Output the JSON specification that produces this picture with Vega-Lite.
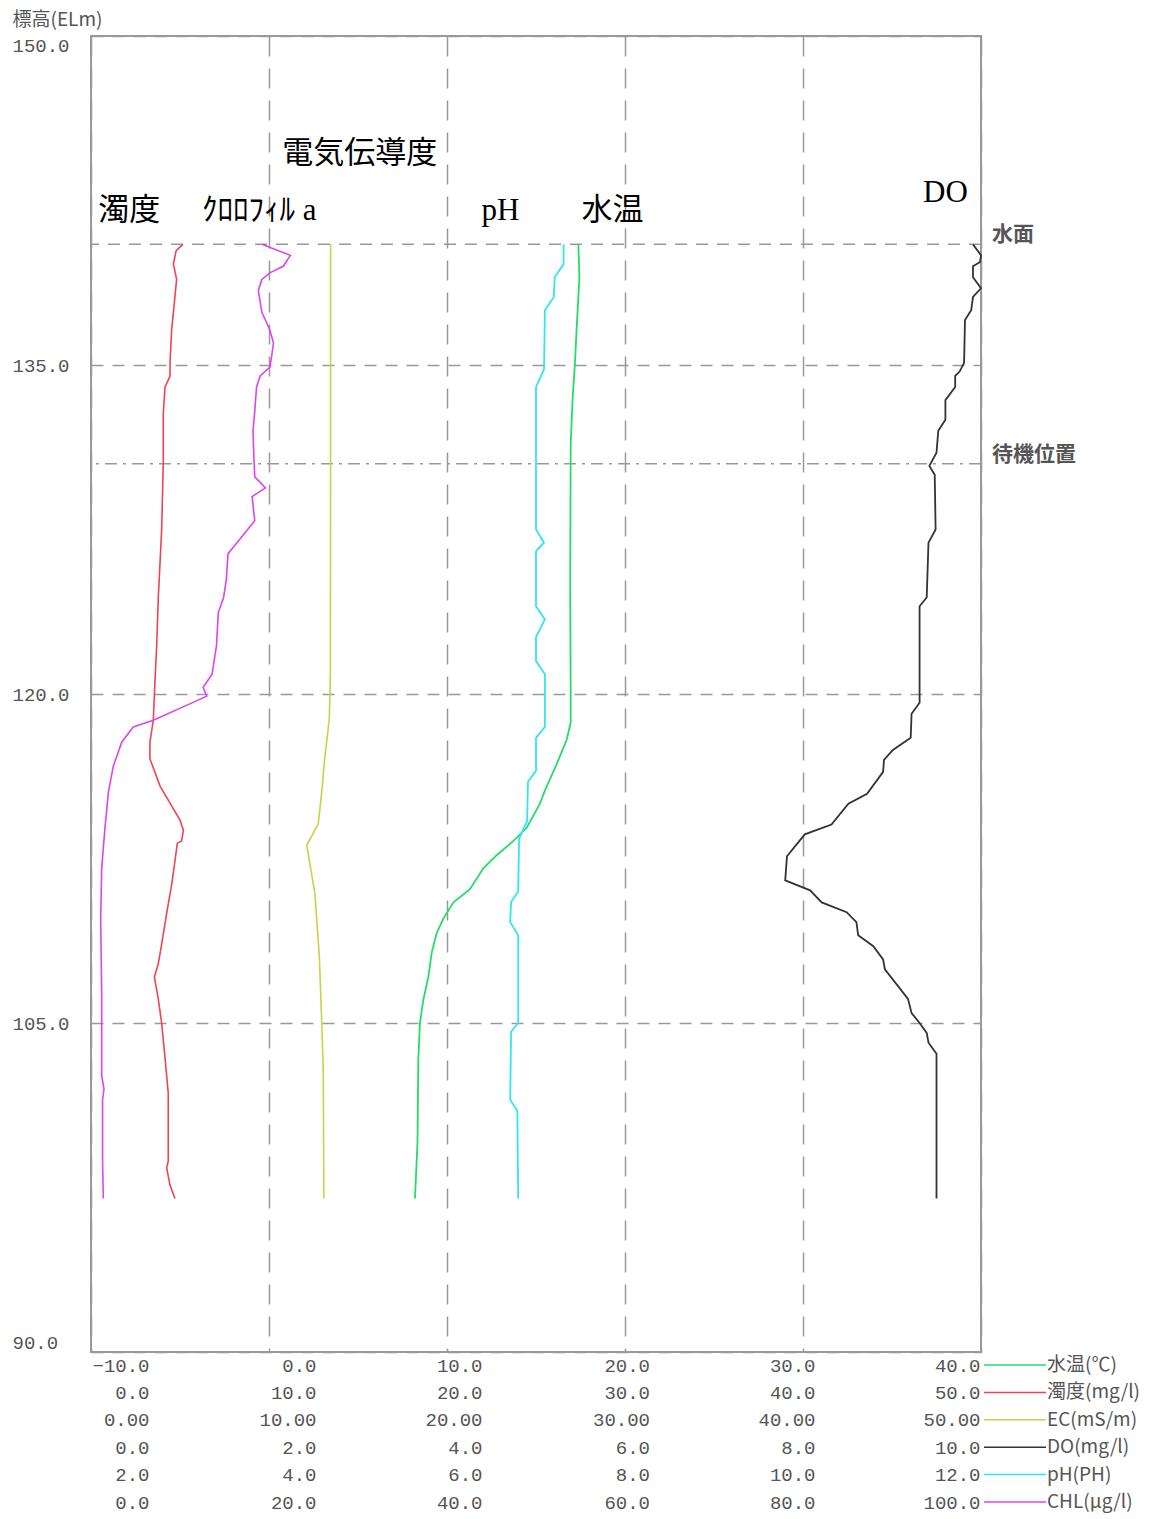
{
  "$schema": "https://vega.github.io/schema/vega-lite/v6.json",
  "width": 890,
  "height": 1316,
  "autosize": {"type": "none"},
  "padding": {"left": 91, "top": 36, "right": 188, "bottom": 167},
  "background": "white",
  "config": {
    "view": {"stroke": "#9a9a9a", "strokeWidth": 2},
    "axis": {"labelFont": "Liberation Mono", "labelFontSize": 19, "labelColor": "#555555", "domain": false, "ticks": false, "tickSize": 0, "labelOverlap": false, "labelBound": false}
  },
  "datasets": {
    "profile": [
      {"p": "水温(℃)", "e": 140.5, "v": 17.38},
      {"p": "水温(℃)", "e": 139.0, "v": 17.44},
      {"p": "水温(℃)", "e": 136.6, "v": 17.28},
      {"p": "水温(℃)", "e": 135.1, "v": 17.19},
      {"p": "水温(℃)", "e": 133.5, "v": 17.06},
      {"p": "水温(℃)", "e": 131.4, "v": 16.95},
      {"p": "水温(℃)", "e": 125.0, "v": 16.92},
      {"p": "水温(℃)", "e": 120.0, "v": 16.95},
      {"p": "水温(℃)", "e": 118.7, "v": 16.95},
      {"p": "水温(℃)", "e": 117.9, "v": 16.72},
      {"p": "水温(℃)", "e": 116.8, "v": 16.16},
      {"p": "水温(℃)", "e": 115.6, "v": 15.5},
      {"p": "水温(℃)", "e": 115.0, "v": 15.22},
      {"p": "水温(℃)", "e": 113.9, "v": 14.48},
      {"p": "水温(℃)", "e": 113.3, "v": 13.73},
      {"p": "水温(℃)", "e": 112.65, "v": 12.79},
      {"p": "水温(℃)", "e": 112.05, "v": 12.04},
      {"p": "水温(℃)", "e": 111.1, "v": 11.29},
      {"p": "水温(℃)", "e": 110.5, "v": 10.36},
      {"p": "水温(℃)", "e": 109.75, "v": 9.79},
      {"p": "水温(℃)", "e": 109.1, "v": 9.42},
      {"p": "水温(℃)", "e": 108.2, "v": 9.14},
      {"p": "水温(℃)", "e": 107.1, "v": 8.95},
      {"p": "水温(℃)", "e": 106.05, "v": 8.67},
      {"p": "水温(℃)", "e": 105.0, "v": 8.48},
      {"p": "水温(℃)", "e": 103.35, "v": 8.39},
      {"p": "水温(℃)", "e": 99.5, "v": 8.34},
      {"p": "水温(℃)", "e": 97.0, "v": 8.2},

      {"p": "濁度(mg/l)", "e": 140.5, "v": 5.15},
      {"p": "濁度(mg/l)", "e": 140.2, "v": 4.78},
      {"p": "濁度(mg/l)", "e": 139.6, "v": 4.63},
      {"p": "濁度(mg/l)", "e": 138.9, "v": 4.81},
      {"p": "濁度(mg/l)", "e": 136.6, "v": 4.53},
      {"p": "濁度(mg/l)", "e": 135.1, "v": 4.44},
      {"p": "濁度(mg/l)", "e": 134.5, "v": 4.44},
      {"p": "濁度(mg/l)", "e": 134.0, "v": 4.16},
      {"p": "濁度(mg/l)", "e": 132.8, "v": 4.06},
      {"p": "濁度(mg/l)", "e": 130.5, "v": 4.06},
      {"p": "濁度(mg/l)", "e": 127.5, "v": 3.97},
      {"p": "濁度(mg/l)", "e": 126.0, "v": 3.88},
      {"p": "濁度(mg/l)", "e": 124.4, "v": 3.78},
      {"p": "濁度(mg/l)", "e": 122.2, "v": 3.69},
      {"p": "濁度(mg/l)", "e": 120.7, "v": 3.6},
      {"p": "濁度(mg/l)", "e": 118.8, "v": 3.5},
      {"p": "濁度(mg/l)", "e": 117.8, "v": 3.31},
      {"p": "濁度(mg/l)", "e": 117.05, "v": 3.31},
      {"p": "濁度(mg/l)", "e": 115.8, "v": 3.88},
      {"p": "濁度(mg/l)", "e": 114.9, "v": 4.53},
      {"p": "濁度(mg/l)", "e": 114.25, "v": 5.0},
      {"p": "濁度(mg/l)", "e": 113.8, "v": 5.19},
      {"p": "濁度(mg/l)", "e": 113.3, "v": 5.09},
      {"p": "濁度(mg/l)", "e": 113.2, "v": 4.85},
      {"p": "濁度(mg/l)", "e": 112.4, "v": 4.72},
      {"p": "濁度(mg/l)", "e": 111.3, "v": 4.53},
      {"p": "濁度(mg/l)", "e": 110.0, "v": 4.25},
      {"p": "濁度(mg/l)", "e": 108.6, "v": 3.97},
      {"p": "濁度(mg/l)", "e": 107.7, "v": 3.78},
      {"p": "濁度(mg/l)", "e": 107.1, "v": 3.56},
      {"p": "濁度(mg/l)", "e": 106.1, "v": 3.78},
      {"p": "濁度(mg/l)", "e": 105.0, "v": 3.97},
      {"p": "濁度(mg/l)", "e": 103.4, "v": 4.16},
      {"p": "濁度(mg/l)", "e": 101.8, "v": 4.34},
      {"p": "濁度(mg/l)", "e": 98.7, "v": 4.34},
      {"p": "濁度(mg/l)", "e": 98.4, "v": 4.25},
      {"p": "濁度(mg/l)", "e": 97.6, "v": 4.44},
      {"p": "濁度(mg/l)", "e": 97.0, "v": 4.72},

      {"p": "EC(mS/m)", "e": 140.5, "v": 13.46},
      {"p": "EC(mS/m)", "e": 130.0, "v": 13.46},
      {"p": "EC(mS/m)", "e": 121.0, "v": 13.45},
      {"p": "EC(mS/m)", "e": 120.0, "v": 13.42},
      {"p": "EC(mS/m)", "e": 118.9, "v": 13.39},
      {"p": "EC(mS/m)", "e": 116.9, "v": 13.11},
      {"p": "EC(mS/m)", "e": 115.5, "v": 12.96},
      {"p": "EC(mS/m)", "e": 114.1, "v": 12.77},
      {"p": "EC(mS/m)", "e": 113.1, "v": 12.12},
      {"p": "EC(mS/m)", "e": 110.9, "v": 12.58},
      {"p": "EC(mS/m)", "e": 108.0, "v": 12.83},
      {"p": "EC(mS/m)", "e": 105.1, "v": 12.96},
      {"p": "EC(mS/m)", "e": 102.8, "v": 13.05},
      {"p": "EC(mS/m)", "e": 97.0, "v": 13.08},

      {"p": "DO(mg/l)", "e": 140.5, "v": 9.91},
      {"p": "DO(mg/l)", "e": 140.0, "v": 10.0},
      {"p": "DO(mg/l)", "e": 139.7, "v": 9.99},
      {"p": "DO(mg/l)", "e": 139.5, "v": 9.91},
      {"p": "DO(mg/l)", "e": 139.0, "v": 9.91},
      {"p": "DO(mg/l)", "e": 138.5, "v": 10.0},
      {"p": "DO(mg/l)", "e": 138.1, "v": 9.91},
      {"p": "DO(mg/l)", "e": 137.5, "v": 9.89},
      {"p": "DO(mg/l)", "e": 137.05, "v": 9.82},
      {"p": "DO(mg/l)", "e": 135.1, "v": 9.81},
      {"p": "DO(mg/l)", "e": 134.7, "v": 9.76},
      {"p": "DO(mg/l)", "e": 134.5, "v": 9.71},
      {"p": "DO(mg/l)", "e": 134.0, "v": 9.71},
      {"p": "DO(mg/l)", "e": 133.4, "v": 9.6},
      {"p": "DO(mg/l)", "e": 132.5, "v": 9.6},
      {"p": "DO(mg/l)", "e": 132.0, "v": 9.52},
      {"p": "DO(mg/l)", "e": 131.0, "v": 9.5},
      {"p": "DO(mg/l)", "e": 130.4, "v": 9.42},
      {"p": "DO(mg/l)", "e": 130.0, "v": 9.48},
      {"p": "DO(mg/l)", "e": 127.5, "v": 9.49},
      {"p": "DO(mg/l)", "e": 126.9, "v": 9.41},
      {"p": "DO(mg/l)", "e": 124.4, "v": 9.39},
      {"p": "DO(mg/l)", "e": 124.0, "v": 9.31},
      {"p": "DO(mg/l)", "e": 119.6, "v": 9.31},
      {"p": "DO(mg/l)", "e": 119.1, "v": 9.22},
      {"p": "DO(mg/l)", "e": 118.0, "v": 9.21},
      {"p": "DO(mg/l)", "e": 117.45, "v": 9.01},
      {"p": "DO(mg/l)", "e": 117.0, "v": 8.91},
      {"p": "DO(mg/l)", "e": 116.45, "v": 8.9},
      {"p": "DO(mg/l)", "e": 115.45, "v": 8.72},
      {"p": "DO(mg/l)", "e": 115.0, "v": 8.51},
      {"p": "DO(mg/l)", "e": 114.05, "v": 8.32},
      {"p": "DO(mg/l)", "e": 113.6, "v": 8.02},
      {"p": "DO(mg/l)", "e": 112.6, "v": 7.82},
      {"p": "DO(mg/l)", "e": 111.5, "v": 7.8},
      {"p": "DO(mg/l)", "e": 111.05, "v": 8.08},
      {"p": "DO(mg/l)", "e": 110.5, "v": 8.21},
      {"p": "DO(mg/l)", "e": 110.05, "v": 8.49},
      {"p": "DO(mg/l)", "e": 109.6, "v": 8.6},
      {"p": "DO(mg/l)", "e": 109.0, "v": 8.62},
      {"p": "DO(mg/l)", "e": 108.5, "v": 8.79},
      {"p": "DO(mg/l)", "e": 107.9, "v": 8.9},
      {"p": "DO(mg/l)", "e": 107.45, "v": 8.92},
      {"p": "DO(mg/l)", "e": 106.1, "v": 9.18},
      {"p": "DO(mg/l)", "e": 105.45, "v": 9.22},
      {"p": "DO(mg/l)", "e": 105.0, "v": 9.31},
      {"p": "DO(mg/l)", "e": 104.55, "v": 9.39},
      {"p": "DO(mg/l)", "e": 104.1, "v": 9.41},
      {"p": "DO(mg/l)", "e": 103.6, "v": 9.5},
      {"p": "DO(mg/l)", "e": 97.0, "v": 9.5},

      {"p": "pH(PH)", "e": 140.5, "v": 7.31},
      {"p": "pH(PH)", "e": 139.6, "v": 7.31},
      {"p": "pH(PH)", "e": 139.0, "v": 7.21},
      {"p": "pH(PH)", "e": 138.1, "v": 7.2},
      {"p": "pH(PH)", "e": 137.5, "v": 7.1},
      {"p": "pH(PH)", "e": 134.8, "v": 7.09},
      {"p": "pH(PH)", "e": 134.0, "v": 7.0},
      {"p": "pH(PH)", "e": 127.5, "v": 7.0},
      {"p": "pH(PH)", "e": 126.9, "v": 7.09},
      {"p": "pH(PH)", "e": 126.5, "v": 7.0},
      {"p": "pH(PH)", "e": 124.0, "v": 7.0},
      {"p": "pH(PH)", "e": 123.4, "v": 7.1},
      {"p": "pH(PH)", "e": 122.6, "v": 7.0},
      {"p": "pH(PH)", "e": 121.5, "v": 7.0},
      {"p": "pH(PH)", "e": 120.9, "v": 7.1},
      {"p": "pH(PH)", "e": 118.5, "v": 7.1},
      {"p": "pH(PH)", "e": 118.0, "v": 7.0},
      {"p": "pH(PH)", "e": 116.5, "v": 7.0},
      {"p": "pH(PH)", "e": 116.0, "v": 6.91},
      {"p": "pH(PH)", "e": 114.2, "v": 6.9},
      {"p": "pH(PH)", "e": 113.4, "v": 6.81},
      {"p": "pH(PH)", "e": 111.0, "v": 6.8},
      {"p": "pH(PH)", "e": 110.5, "v": 6.72},
      {"p": "pH(PH)", "e": 109.6, "v": 6.71},
      {"p": "pH(PH)", "e": 109.0, "v": 6.8},
      {"p": "pH(PH)", "e": 105.0, "v": 6.8},
      {"p": "pH(PH)", "e": 104.6, "v": 6.72},
      {"p": "pH(PH)", "e": 101.5, "v": 6.71},
      {"p": "pH(PH)", "e": 101.0, "v": 6.79},
      {"p": "pH(PH)", "e": 97.0, "v": 6.8},

      {"p": "CHL(μg/l)", "e": 140.5, "v": 19.2},
      {"p": "CHL(μg/l)", "e": 140.0, "v": 22.4},
      {"p": "CHL(μg/l)", "e": 139.5, "v": 21.6},
      {"p": "CHL(μg/l)", "e": 139.2, "v": 20.1},
      {"p": "CHL(μg/l)", "e": 138.9, "v": 19.2},
      {"p": "CHL(μg/l)", "e": 138.4, "v": 18.8},
      {"p": "CHL(μg/l)", "e": 137.4, "v": 19.2},
      {"p": "CHL(μg/l)", "e": 136.6, "v": 20.1},
      {"p": "CHL(μg/l)", "e": 136.0, "v": 20.5},
      {"p": "CHL(μg/l)", "e": 135.4, "v": 20.3},
      {"p": "CHL(μg/l)", "e": 134.9, "v": 20.1},
      {"p": "CHL(μg/l)", "e": 134.5, "v": 19.0},
      {"p": "CHL(μg/l)", "e": 134.0, "v": 18.6},
      {"p": "CHL(μg/l)", "e": 132.9, "v": 18.4},
      {"p": "CHL(μg/l)", "e": 132.0, "v": 18.2},
      {"p": "CHL(μg/l)", "e": 130.8, "v": 18.3},
      {"p": "CHL(μg/l)", "e": 129.9, "v": 18.4},
      {"p": "CHL(μg/l)", "e": 129.4, "v": 19.6},
      {"p": "CHL(μg/l)", "e": 129.0, "v": 18.1},
      {"p": "CHL(μg/l)", "e": 127.9, "v": 18.4},
      {"p": "CHL(μg/l)", "e": 126.9, "v": 16.4},
      {"p": "CHL(μg/l)", "e": 126.4, "v": 15.4},
      {"p": "CHL(μg/l)", "e": 125.2, "v": 15.2},
      {"p": "CHL(μg/l)", "e": 124.4, "v": 14.9},
      {"p": "CHL(μg/l)", "e": 123.7, "v": 14.3},
      {"p": "CHL(μg/l)", "e": 122.2, "v": 14.1},
      {"p": "CHL(μg/l)", "e": 120.9, "v": 13.6},
      {"p": "CHL(μg/l)", "e": 120.3, "v": 12.6},
      {"p": "CHL(μg/l)", "e": 119.9, "v": 13.0},
      {"p": "CHL(μg/l)", "e": 119.55, "v": 11.1},
      {"p": "CHL(μg/l)", "e": 118.8, "v": 7.0},
      {"p": "CHL(μg/l)", "e": 118.5, "v": 4.75},
      {"p": "CHL(μg/l)", "e": 117.8, "v": 3.45},
      {"p": "CHL(μg/l)", "e": 116.7, "v": 2.5},
      {"p": "CHL(μg/l)", "e": 115.5, "v": 1.95},
      {"p": "CHL(μg/l)", "e": 113.9, "v": 1.57},
      {"p": "CHL(μg/l)", "e": 112.05, "v": 1.2},
      {"p": "CHL(μg/l)", "e": 109.7, "v": 1.09},
      {"p": "CHL(μg/l)", "e": 106.5, "v": 1.2},
      {"p": "CHL(μg/l)", "e": 102.6, "v": 1.2},
      {"p": "CHL(μg/l)", "e": 102.0, "v": 1.46},
      {"p": "CHL(μg/l)", "e": 101.5, "v": 1.3},
      {"p": "CHL(μg/l)", "e": 98.7, "v": 1.3},
      {"p": "CHL(μg/l)", "e": 97.0, "v": 1.38}
    ],
    "notes": [
      {"p": "水温(℃)", "label": "水温", "e": 142.0, "v": 19.3},
      {"p": "濁度(mg/l)", "label": "濁度", "e": 142.0, "v": 2.15},
      {"p": "EC(mS/m)", "label": "電気伝導度", "e": 144.6, "v": 15.1},
      {"p": "DO(mg/l)", "label": "DO", "e": 142.85, "v": 9.6},
      {"p": "pH(PH)", "label": "pH", "e": 142.0, "v": 6.6},
      {"p": "CHL(μg/l)", "label": "ｸﾛﾛﾌｨﾙ a", "e": 142.0, "v": 18.9}
    ],
    "refs": [
      {"e": 140.5, "label": "水面"},
      {"e": 130.5, "label": "待機位置"}
    ]
  },
  "encoding": {
    "y": {
      "field": "e", "type": "quantitative",
      "scale": {"domain": [90, 150], "nice": false, "zero": false},
      "axis": {
        "values": [90, 105, 120, 135, 150], "format": ".1f",
        "title": "標高(ELm)", "titleAngle": 0, "titleAlign": "left", "titleBaseline": "middle",
        "titleX": -79, "titleY": -17, "titleFont": "Noto Sans CJK JP", "titleFontSize": 19,
        "titleFontWeight": "normal", "titleColor": "#555555",
        "labelAlign": "left", "labelPadding": 79, "labelFlush": true,
        "grid": true, "gridDash": [12, 9], "gridColor": "#999999", "gridWidth": 1.5
      }
    }
  },
  "layer": [
    {
      "data": {"name": "refs"},
      "mark": {"type": "rule", "color": "#999999", "strokeWidth": 1.5},
      "encoding": {
        "strokeDash": {"field": "label", "type": "nominal", "scale": {"domain": ["水面", "待機位置"], "range": [[12, 9], [12, 6, 3, 6]]}, "legend": null}
      }
    },
    {
      "data": {"name": "refs"},
      "mark": {"type": "text", "align": "left", "baseline": "middle", "dx": 11, "dy": -9, "font": "Noto Sans CJK JP", "fontSize": 21, "fontWeight": "bold", "color": "#555555"},
      "encoding": {"x": {"value": "width"}, "text": {"field": "label"}}
    },
    {
      "layer": [
        {
          "data": {"name": "profile"},
          "transform": [{"filter": {"field": "p", "equal": "水温(℃)"}}],
          "mark": {"type": "line", "strokeWidth": 1.8},
          "encoding": {
            "x": {"field": "v", "type": "quantitative", "scale": {"domain": [-10, 40], "nice": false, "zero": false},
              "axis": {"orient": "bottom", "offset": 0, "values": [-10, 0, 10, 20, 30, 40], "format": ".1f", "title": null,
                "labelAlign": "right", "labelBaseline": "middle", "labelPadding": 13,
                "grid": true, "gridDash": [20, 12], "gridColor": "#999999", "gridWidth": 1.5,
                "labelOffset": {"condition": [{"test": "datum.value < -5", "value": 58}, {"test": "datum.value < 5", "value": 47}, {"test": "datum.value < 15", "value": 35}, {"test": "datum.value < 25", "value": 24.5}, {"test": "datum.value < 35", "value": 12}], "value": -1}}},
            "color": {"field": "p", "type": "nominal",
              "scale": {"domain": ["水温(℃)", "濁度(mg/l)", "EC(mS/m)", "DO(mg/l)", "pH(PH)", "CHL(μg/l)"], "range": ["#22dd66", "#ee4455", "#c8d24a", "#333333", "#33e6ee", "#dd44ee"]},
              "legend": {"orient": "none", "legendX": 892, "legendY": 1319, "title": null, "symbolType": "stroke", "symbolSize": 3844, "symbolStrokeWidth": 1.5, "clipHeight": 20, "rowPadding": 7.4, "labelOffset": 0, "labelFont": "Noto Sans CJK JP", "labelFontSize": 19, "labelColor": "#555555", "padding": 0, "direction": "vertical"}},
            "order": {"field": "e", "type": "quantitative"}
          }
        },
        {
          "data": {"name": "notes"},
          "transform": [{"filter": {"field": "p", "equal": "水温(℃)"}}],
          "mark": {"type": "text", "align": "center", "baseline": "middle", "font": "'Liberation Serif', 'Noto Sans CJK JP'", "fontSize": 31, "color": "#000000"},
          "encoding": {"x": {"field": "v", "type": "quantitative"}, "text": {"field": "label"}}
        }
      ]
    },
    {
      "layer": [
        {
          "data": {"name": "profile"},
          "transform": [{"filter": {"field": "p", "equal": "濁度(mg/l)"}}],
          "mark": {"type": "line", "strokeWidth": 1.6},
          "encoding": {
            "x": {"field": "v", "type": "quantitative", "scale": {"domain": [0, 50], "nice": false, "zero": false},
              "axis": {"orient": "bottom", "offset": 27.4, "values": [0, 10, 20, 30, 40, 50], "format": ".1f", "title": null,
                "labelAlign": "right", "labelBaseline": "middle", "labelPadding": 13, "grid": false,
                "labelOffset": {"condition": [{"test": "datum.value < 5", "value": 58}, {"test": "datum.value < 15", "value": 47}, {"test": "datum.value < 25", "value": 35}, {"test": "datum.value < 35", "value": 24.5}, {"test": "datum.value < 45", "value": 12}], "value": -1}}},
            "color": {"field": "p", "type": "nominal"},
            "order": {"field": "e", "type": "quantitative"}
          }
        },
        {
          "data": {"name": "notes"},
          "transform": [{"filter": {"field": "p", "equal": "濁度(mg/l)"}}],
          "mark": {"type": "text", "align": "center", "baseline": "middle", "font": "'Liberation Serif', 'Noto Sans CJK JP'", "fontSize": 31, "color": "#000000"},
          "encoding": {"x": {"field": "v", "type": "quantitative"}, "text": {"field": "label"}}
        }
      ]
    },
    {
      "layer": [
        {
          "data": {"name": "profile"},
          "transform": [{"filter": {"field": "p", "equal": "EC(mS/m)"}}],
          "mark": {"type": "line", "strokeWidth": 1.6},
          "encoding": {
            "x": {"field": "v", "type": "quantitative", "scale": {"domain": [0, 50], "nice": false, "zero": false},
              "axis": {"orient": "bottom", "offset": 54.8, "values": [0, 10, 20, 30, 40, 50], "format": ".2f", "title": null,
                "labelAlign": "right", "labelBaseline": "middle", "labelPadding": 13, "grid": false,
                "labelOffset": {"condition": [{"test": "datum.value < 5", "value": 58}, {"test": "datum.value < 15", "value": 47}, {"test": "datum.value < 25", "value": 35}, {"test": "datum.value < 35", "value": 24.5}, {"test": "datum.value < 45", "value": 12}], "value": -1}}},
            "color": {"field": "p", "type": "nominal"},
            "order": {"field": "e", "type": "quantitative"}
          }
        },
        {
          "data": {"name": "notes"},
          "transform": [{"filter": {"field": "p", "equal": "EC(mS/m)"}}],
          "mark": {"type": "text", "align": "center", "baseline": "middle", "font": "'Liberation Serif', 'Noto Sans CJK JP'", "fontSize": 31, "color": "#000000"},
          "encoding": {"x": {"field": "v", "type": "quantitative"}, "text": {"field": "label"}}
        }
      ]
    },
    {
      "layer": [
        {
          "data": {"name": "profile"},
          "transform": [{"filter": {"field": "p", "equal": "DO(mg/l)"}}],
          "mark": {"type": "line", "strokeWidth": 1.8},
          "encoding": {
            "x": {"field": "v", "type": "quantitative", "scale": {"domain": [0, 10], "nice": false, "zero": false},
              "axis": {"orient": "bottom", "offset": 82.2, "values": [0, 2, 4, 6, 8, 10], "format": ".1f", "title": null,
                "labelAlign": "right", "labelBaseline": "middle", "labelPadding": 13, "grid": false,
                "labelOffset": {"condition": [{"test": "datum.value < 1", "value": 58}, {"test": "datum.value < 3", "value": 47}, {"test": "datum.value < 5", "value": 35}, {"test": "datum.value < 7", "value": 24.5}, {"test": "datum.value < 9", "value": 12}], "value": -1}}},
            "color": {"field": "p", "type": "nominal"},
            "order": {"field": "e", "type": "quantitative"}
          }
        },
        {
          "data": {"name": "notes"},
          "transform": [{"filter": {"field": "p", "equal": "DO(mg/l)"}}],
          "mark": {"type": "text", "align": "center", "baseline": "middle", "font": "'Liberation Serif', 'Noto Sans CJK JP'", "fontSize": 31, "color": "#000000"},
          "encoding": {"x": {"field": "v", "type": "quantitative"}, "text": {"field": "label"}}
        }
      ]
    },
    {
      "layer": [
        {
          "data": {"name": "profile"},
          "transform": [{"filter": {"field": "p", "equal": "pH(PH)"}}],
          "mark": {"type": "line", "strokeWidth": 1.8},
          "encoding": {
            "x": {"field": "v", "type": "quantitative", "scale": {"domain": [2, 12], "nice": false, "zero": false},
              "axis": {"orient": "bottom", "offset": 109.6, "values": [2, 4, 6, 8, 10, 12], "format": ".1f", "title": null,
                "labelAlign": "right", "labelBaseline": "middle", "labelPadding": 13, "grid": false,
                "labelOffset": {"condition": [{"test": "datum.value < 3", "value": 58}, {"test": "datum.value < 5", "value": 47}, {"test": "datum.value < 7", "value": 35}, {"test": "datum.value < 9", "value": 24.5}, {"test": "datum.value < 11", "value": 12}], "value": -1}}},
            "color": {"field": "p", "type": "nominal"},
            "order": {"field": "e", "type": "quantitative"}
          }
        },
        {
          "data": {"name": "notes"},
          "transform": [{"filter": {"field": "p", "equal": "pH(PH)"}}],
          "mark": {"type": "text", "align": "center", "baseline": "middle", "font": "'Liberation Serif', 'Noto Sans CJK JP'", "fontSize": 31, "color": "#000000"},
          "encoding": {"x": {"field": "v", "type": "quantitative"}, "text": {"field": "label"}}
        }
      ]
    },
    {
      "layer": [
        {
          "data": {"name": "profile"},
          "transform": [{"filter": {"field": "p", "equal": "CHL(μg/l)"}}],
          "mark": {"type": "line", "strokeWidth": 1.6},
          "encoding": {
            "x": {"field": "v", "type": "quantitative", "scale": {"domain": [0, 100], "nice": false, "zero": false},
              "axis": {"orient": "bottom", "offset": 137, "values": [0, 20, 40, 60, 80, 100], "format": ".1f", "title": null,
                "labelAlign": "right", "labelBaseline": "middle", "labelPadding": 13, "grid": false,
                "labelOffset": {"condition": [{"test": "datum.value < 10", "value": 58}, {"test": "datum.value < 30", "value": 47}, {"test": "datum.value < 50", "value": 35}, {"test": "datum.value < 70", "value": 24.5}, {"test": "datum.value < 90", "value": 12}], "value": -1}}},
            "color": {"field": "p", "type": "nominal"},
            "order": {"field": "e", "type": "quantitative"}
          }
        },
        {
          "data": {"name": "notes"},
          "transform": [{"filter": {"field": "p", "equal": "CHL(μg/l)"}}],
          "mark": {"type": "text", "align": "center", "baseline": "middle", "font": "'Liberation Serif', 'Noto Sans CJK JP'", "fontSize": 31, "color": "#000000"},
          "encoding": {"x": {"field": "v", "type": "quantitative"}, "text": {"field": "label"}}
        }
      ]
    }
  ],
  "resolve": {"scale": {"x": "independent"}, "axis": {"x": "independent"}}
}
